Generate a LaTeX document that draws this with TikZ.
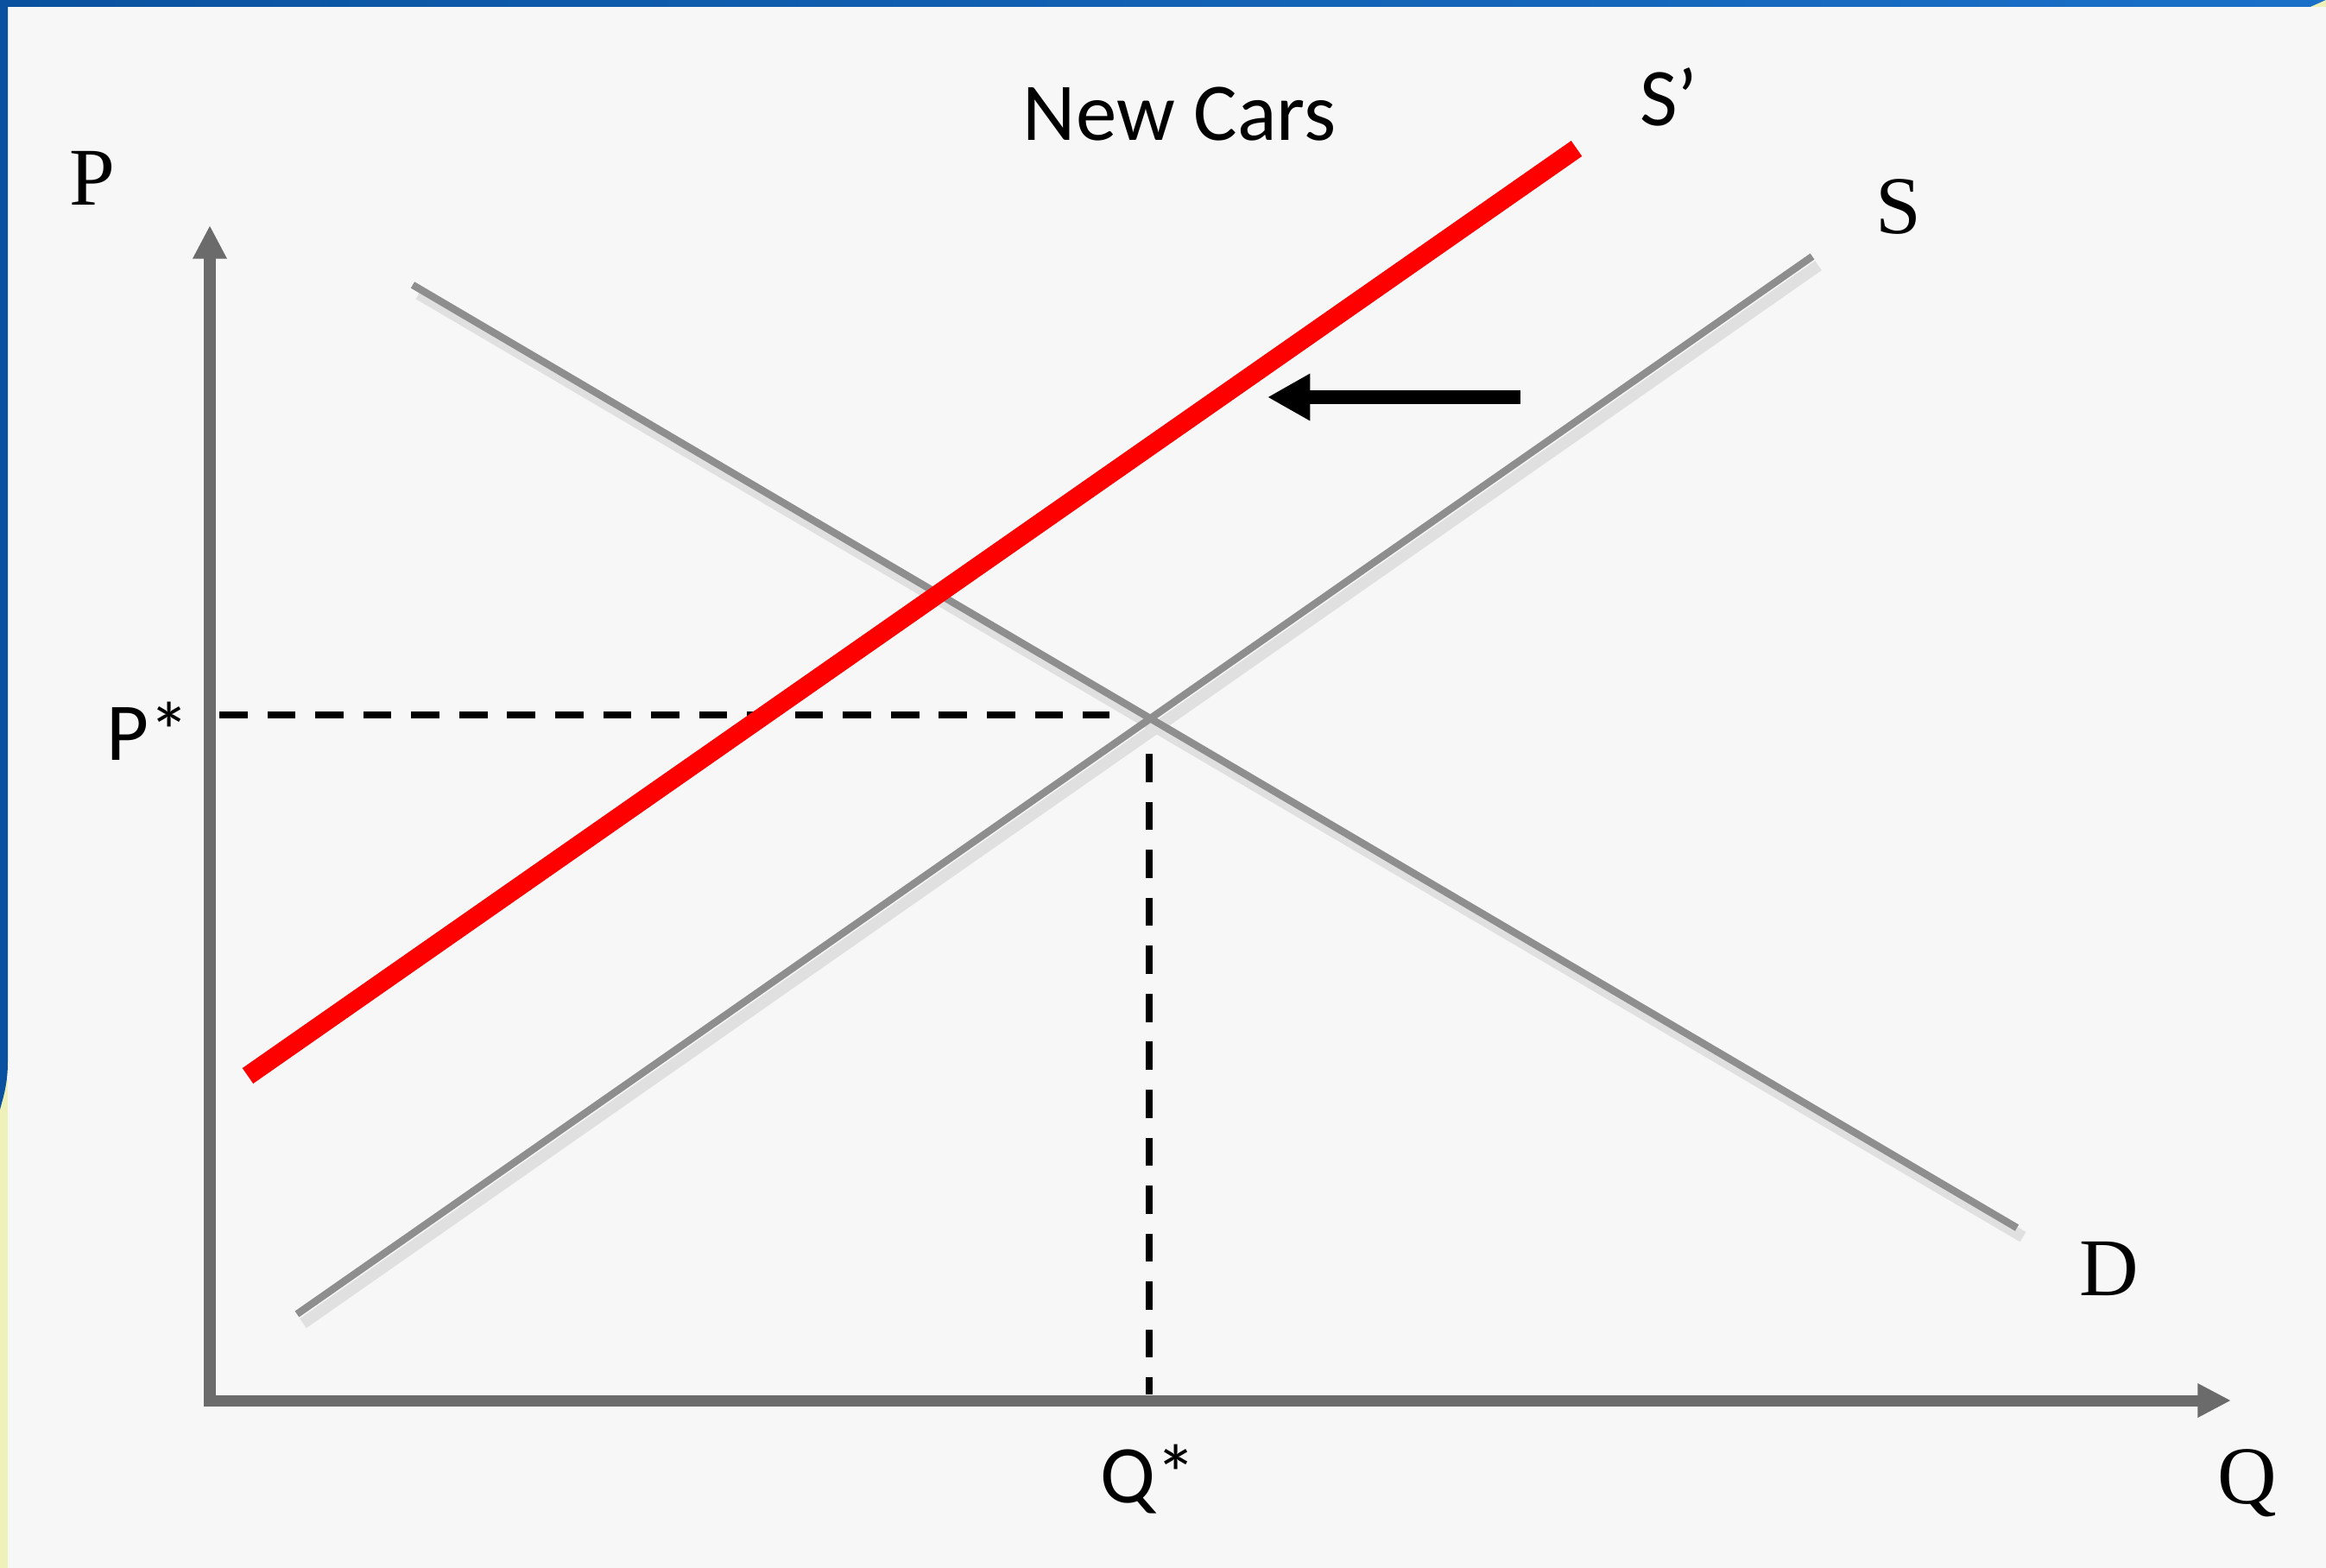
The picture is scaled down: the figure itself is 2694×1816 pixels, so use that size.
\documentclass[tikz,border=0pt]{standalone}
\usepackage{fontspec}
\setmainfont{Liberation Serif}
\newfontfamily\carlito{Carlito}
\usetikzlibrary{arrows.meta}
\definecolor{bg}{HTML}{F7F7F7}
\definecolor{frameblue}{HTML}{0A52A0}
\definecolor{frameblue2}{HTML}{1A70C8}
\definecolor{paleyel}{HTML}{EEF2B8}
\definecolor{axisgray}{HTML}{6B6B6B}
\definecolor{linegray}{HTML}{8E8E8E}
\definecolor{shiftred}{HTML}{FF0000}
\tikzset{
  axis/.style={draw=axisgray, line width=3.7pt, -{Triangle[length=11pt,width=10.5pt]}},
  curve/.style={draw=linegray, line width=2.4pt},
  curveshadow/.style={draw=black!12, line width=3.8pt},
  newcurve/.style={draw=shiftred, line width=6.2pt},
  guide/.style={draw=black, line width=2.3pt, dash pattern=on 9.3pt off 6.5pt},
  shiftarrow/.style={draw=black, line width=4.7pt, -{Triangle[length=14pt,width=14.5pt]}},
  serif label/.style={font=\fontsize{27}{30}\selectfont, inner sep=0pt},
  sans label/.style={font=\carlito\fontsize{27}{30}\selectfont, inner sep=0pt}
}
\begin{document}
\begin{tikzpicture}[x=0.01cm, y=-0.01cm]
  % background and frame
  \fill[bg] (0,0) rectangle (2694,1816);
  \useasboundingbox (0,0) rectangle (2694,1816);
  \fill[paleyel] (0,1250) rectangle (9,1816);
  \fill[frameblue] (0,0) -- (9,0) -- (9,1230) .. controls (9,1255) and (4,1270) .. (0,1285) -- cycle;
  \shade[left color=frameblue, right color=frameblue2] (0,0) rectangle (2694,8);
  \fill[paleyel] (2676,8) -- (2694,0) -- (2694,8) -- cycle;

  % coordinates
  \coordinate (O) at (243,1622);
  \coordinate (Ptop) at (243,261);
  \coordinate (Qend) at (2584,1622);
  \coordinate (D1) at (478,330);
  \coordinate (D2) at (2336,1422);
  \coordinate (S1) at (344,1522);
  \coordinate (S2) at (2099,297);
  \coordinate (N1) at (287,1246);
  \coordinate (N2) at (1826,172);
  \coordinate (Pstart) at (254,828);
  \coordinate (Pend) at (1285,828);
  \coordinate (Qtop) at (1331,873);
  \coordinate (Qbot) at (1331,1615);
  \coordinate (A1) at (1761,460);
  \coordinate (A2) at (1468,460);

  % axes
  \draw[axis] (O) -- (Ptop);
  \draw[axis] ([xshift=-1.85pt]O) -- (Qend);

  % shadows
  \draw[curveshadow] ([xshift=2pt,yshift=-3pt]D1) -- ([xshift=2pt,yshift=-3pt]D2);
  \draw[curveshadow] ([xshift=2pt,yshift=-3pt]S1) -- ([xshift=2pt,yshift=-3pt]S2);

  % demand and supply
  \draw[curve] (D1) -- (D2);
  \draw[curve] (S1) -- (S2);

  % guides
  \draw[guide] (Pstart) -- (Pend);
  \draw[guide] (Qtop) -- (Qbot);

  % new supply
  \draw[newcurve] (N1) -- (N2);

  % shift arrow
  \draw[shiftarrow] (A1) -- (A2);

  % labels
  \node[sans label] (title) at (1366,132) {New Cars};
  \node[sans label] (Sp) at (1933,112) {S’};
  \node[serif label] (Slab) at (2199,240) {S};
  \node[serif label] (Plab) at (107,206) {P};
  \node[sans label] (Pstar) at (172,847) {P*};
  \node[sans label] (Qstar) at (1330,1713) {Q*};
  \node[serif label] (Dlab) at (2443,1469) {D};
  \node[serif label] (Qlab) at (2603,1718) {Q};
\end{tikzpicture}
\end{document}
